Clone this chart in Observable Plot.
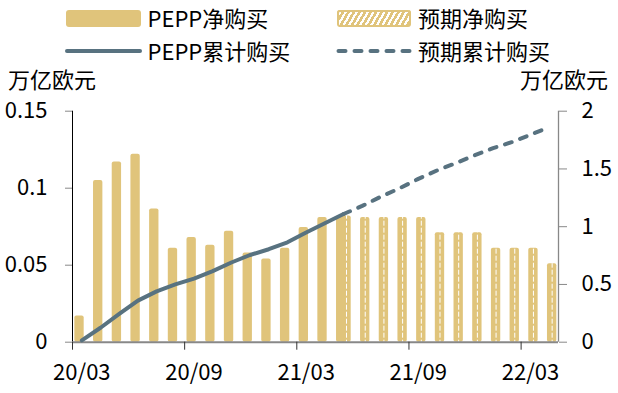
<!DOCTYPE html>
<html><head><meta charset="utf-8">
<script src="https://cdn.jsdelivr.net/npm/d3@7"></script>
<script src="https://cdn.jsdelivr.net/npm/@observablehq/plot@0.6"></script>
<style>
body{margin:0;background:#fff;}
#wrap{position:relative;width:618px;height:393px;font-family:"Noto Sans CJK SC",sans-serif;color:#000;overflow:hidden;}
.t{position:absolute;font-size:22px;line-height:22px;white-space:nowrap;}
.sw{position:absolute;}
#chart{position:absolute;left:0;top:0;}
</style></head><body><div id="wrap"><div id="chart"></div></div>
<script>
// ---- data ----
const months = ["20/03","20/04","20/05","20/06","20/07","20/08","20/09","20/10","20/11","20/12",
  "21/01","21/02","21/03","21/04","21/05","21/06","21/07","21/08","21/09","21/10","21/11","21/12",
  "22/01","22/02","22/03","22/04"];
const xTickLabels = ["20/03","20/09","21/03","21/09","22/03"];
const leftTicks = [0, 0.05, 0.1, 0.15];
const rightTicks = [0, 0.5, 1, 1.5, 2];
const rightTickLabels = ["0","0.5","1","1.5","2"];
// PEPP net purchases (left axis, 万亿欧元), 20/03 .. 21/05
const netPurchase = [0.017,0.105,0.117,0.122,0.0865,0.061,0.068,0.063,0.072,0.058,0.054,0.061,0.0745,0.081,0.081];
// expected net purchases, 21/05 .. 22/04
const expectedNet = [0.082,0.081,0.081,0.081,0.081,0.071,0.071,0.071,0.061,0.061,0.061,0.051];
// PEPP cumulative purchases (right axis), 20/03 .. 21/05
const cumPurchase = [0.015,0.125,0.245,0.36,0.44,0.5,0.55,0.615,0.69,0.755,0.805,0.865,0.95,1.03,1.11];
// expected cumulative purchases, 21/05 .. 22/04
const expectedCum = [1.11,1.18,1.26,1.333,1.414,1.487,1.55,1.617,1.68,1.732,1.796,1.862];
const seriesNames = ["PEPP净购买","预期净购买","PEPP累计购买","预期累计购买"];
const unitLabel = "万亿欧元";

// ---- build tables ----
const startForecast = months.indexOf("21/05");
const netT = netPurchase.map((v,i)=>({k:i, v}));
const expNetT = expectedNet.map((v,i)=>({k:i+startForecast, v}));
const cumT = cumPurchase.map((v,i)=>({k:i, v}));
const expCumT = expectedCum.map((v,i)=>({k:i+startForecast, v}));
const ratio = 0.15/2; // right axis -> left axis

const gold = "#E0C47B", slate = "#587280";
const font = "'Noto Sans CJK SC', sans-serif";

const chart = Plot.plot({
  width: 618, height: 393,
  marginLeft: 72, marginRight: 60, marginTop: 110.7, marginBottom: 51.3,
  style: {fontFamily: font, fontSize: "22px", color: "#000", background: "transparent", overflow: "visible"},
  x: {type: "linear", domain: [0, months.length], axis: null},
  y: {domain: [0, 0.15], axis: null},
  marks: [
    Plot.rectY(netT, {x1: d=>d.k+0.125, x2: d=>d.k+0.625, y1: 0, y2: "v", fill: gold, rx: 2}),
    Plot.rectY(expNetT, {x1: d=>d.k+0.41, x2: d=>d.k+0.91, y1: 0, y2: "v", fill: gold, rx: 2}),
    Plot.ruleX(expNetT, {x: d=>d.k+0.66, y1: 0, y2: "v", stroke: "#fff", strokeWidth: 1, strokeDasharray: "5,2", insetTop: 3}),
    // axes lines
    Plot.ruleX([0], {y1: 0, y2: 0.15, stroke: "#000", strokeWidth: 1}),
    Plot.ruleX([months.length], {y1: 0, y2: 0.15, stroke: "#888", strokeWidth: 1.3}),
    Plot.ruleY([0], {stroke: "#888", strokeWidth: 2}),
    // left axis
    Plot.axisY({anchor: "left", ticks: leftTicks, tickSize: 7, tickPadding: 18, stroke: "#888", fill: "#000",
      tickFormat: d => leftTicks.indexOf(d) === 0 ? "0" : String(d), label: null}),
    // right axis
    Plot.axisY({anchor: "right", ticks: rightTicks.map(v=>v*ratio), tickSize: 8, tickPadding: 15, stroke: "#888", fill: "#000",
      tickFormat: (d,i) => rightTickLabels[i], label: null}),
    // x axis ticks at category boundaries
    Plot.axisX({ticks: xTickLabels.map(l=>months.indexOf(l)), tickSize: 8, stroke: "#333", tickFormat: () => "", label: null}),
    // x labels at category centres
    Plot.axisX({ticks: xTickLabels.map(l=>months.indexOf(l)+0.5), tickSize: 0, tickPadding: 22, fill: "#000",
      tickFormat: d => months[Math.floor(d)], label: null}),
    // cumulative lines
    Plot.line(expCumT, {x: d=>d.k+0.5, y: d=>d.v*ratio, stroke: slate, strokeWidth: 4, strokeDasharray: "7,9", strokeLinecap: "round"}),
    Plot.line(cumT, {x: d=>d.k+0.5, y: d=>d.v*ratio, stroke: slate, strokeWidth: 4, strokeLinecap: "round", strokeLinejoin: "round"})
  ]
});
document.getElementById("chart").appendChild(chart);

// ---- legend & unit labels (HTML) ----
const wrap = document.getElementById("wrap");
function add(html){ const d=document.createElement("div"); d.innerHTML=html; wrap.appendChild(d.firstChild); }
add(`<div class="sw" style="left:66px;top:10px;width:75px;height:16.5px;border-radius:3px;background:${gold}"></div>`);
add(`<div class="sw" style="left:337px;top:10px;width:74px;height:16.5px;border-radius:3px;background:repeating-linear-gradient(120deg, ${gold} 0 2.6px, #fff 2.6px 4.8px);box-shadow:inset 0 0 0 2px ${gold}"></div>`);
add(`<svg class="sw" style="left:64px;top:46px" width="80" height="10"><line x1="3" y1="5" x2="76" y2="5" stroke="${slate}" stroke-width="4" stroke-linecap="round"/></svg>`);
add(`<svg class="sw" style="left:335px;top:46px" width="80" height="10"><line x1="3.5" y1="5" x2="75" y2="5" stroke="${slate}" stroke-width="4" stroke-linecap="round" stroke-dasharray="7,9"/></svg>`);
add(`<div class="t" style="left:147.5px;top:6px">${seriesNames[0]}</div>`);
add(`<div class="t" style="left:418px;top:6px">${seriesNames[1]}</div>`);
add(`<div class="t" style="left:147.5px;top:38.5px">${seriesNames[2]}</div>`);
add(`<div class="t" style="left:418px;top:38.5px">${seriesNames[3]}</div>`);
add(`<div class="t" style="left:8px;top:67px">${unitLabel}</div>`);
add(`<div class="t" style="right:10px;top:67px">${unitLabel}</div>`);
</script></body></html>
